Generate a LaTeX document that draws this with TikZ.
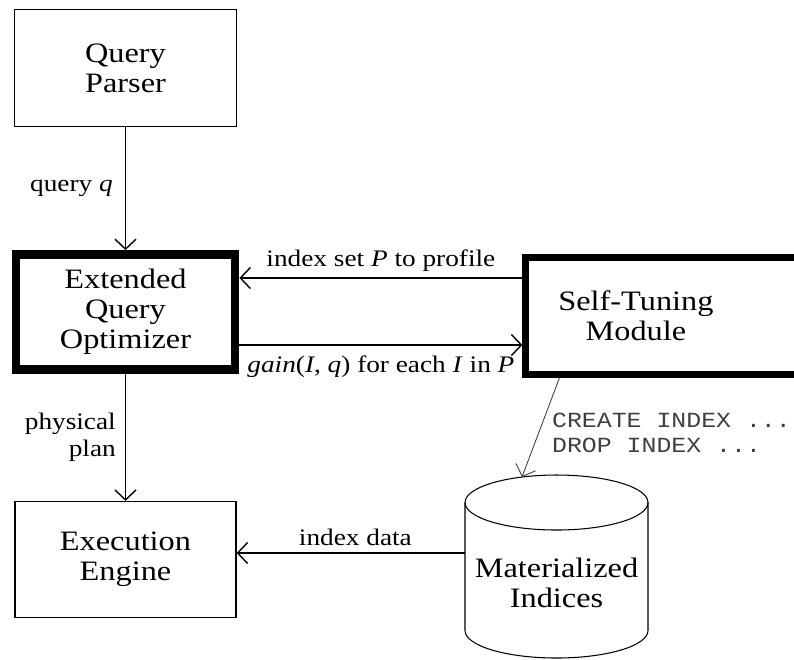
\documentclass[tikz,border=0pt]{standalone}
\usepackage{fontspec}
\setmainfont{Liberation Serif}[FakeStretch=1.15]
\setmonofont{Liberation Mono}[FakeStretch=1.15]
\usetikzlibrary{arrows.meta,positioning}

\begin{document}
\begin{tikzpicture}[
  node distance=2.5cm and 5.66cm,
  module/.style={rectangle, draw, line width=0.7pt, minimum width=4.44cm,
                 minimum height=2.34cm, align=center, font=\fontsize{16}{17}\selectfont},
  heavy/.style={module, line width=5pt, minimum width=4.38cm, minimum height=2.3cm},
  lbl/.style={font=\fontsize{13.5}{15.3}\selectfont, inner sep=0pt},
  flow/.style={draw, -{Straight Barb[length=0.2cm,width=0.42cm]}, line width=0.8pt},
]
  \useasboundingbox (0,0) rectangle (15.88,-13.18);

  \node[module] (parser) at (2.51,-1.36) {Query\\Parser};
  \node[heavy, below=2.46cm of parser] (optimizer) {Extended\\Query\\Optimizer};
  \node[module, minimum width=4.42cm, minimum height=2.32cm, below=2.54cm of optimizer] (engine) {Execution\\Engine};
  \node[heavy, line width=4pt, minimum width=5.66cm, minimum height=2.35cm,
        right=5.66cm of optimizer, yshift=-0.075cm] (selftune) {};
  \node[module, draw=none] (selftunetxt) at ([xshift=-0.63cm]selftune.center) {Self-Tuning\\Module};

  \draw[line width=0.6pt] (9.30,-10.05) -- (9.30,-12.61)
    arc[start angle=180, end angle=360, x radius=1.83cm, y radius=0.55cm] -- (12.96,-10.05);
  \draw[line width=0.6pt] (11.13,-10.05) ellipse [x radius=1.83cm, y radius=0.55cm];
  \node[module, draw=none, minimum width=0pt, minimum height=0pt] (matidx) at (11.13,-11.66) {Materialized\\Indices};
  \coordinate (cyltop) at (10.44,-9.54);
  \coordinate (cylleft) at (9.30,-11.06);

  \coordinate (profileout) at ([yshift=0.68cm]optimizer.east);
  \coordinate (gainin) at ([yshift=-0.66cm]optimizer.east);

  \draw[flow] (parser) -- node[lbl, left=0.24cm] {query \textit{q}} (optimizer);
  \draw[flow] (optimizer) -- node[lbl, left=0.18cm, align=right] {physical\\plan} (engine);
  \draw[flow] (profileout -| selftune.west) -- node[lbl, above=0.12cm] {index set \textit{P} to profile} (profileout);
  \draw[flow] (gainin) -- node[lbl, below=0.2cm] {\textit{gain}(\textit{I}, \textit{q}) for each \textit{I} in \textit{P}} (gainin -| selftune.west);
  \draw[flow] (cylleft) -- node[lbl, above=0.14cm, pos=0.48] {index data} (cylleft -| engine.east);
  \draw[flow, line width=0.5pt, black!75] ([xshift=0.74cm]selftune.south west) --
    node[midway, right=0.22cm, yshift=-0.1cm, inner sep=0pt, align=left,
         font=\ttfamily\fontsize{12.3}{14.2}\selectfont] {CREATE INDEX ...\\DROP INDEX ...} (cyltop);
\end{tikzpicture}
\end{document}
